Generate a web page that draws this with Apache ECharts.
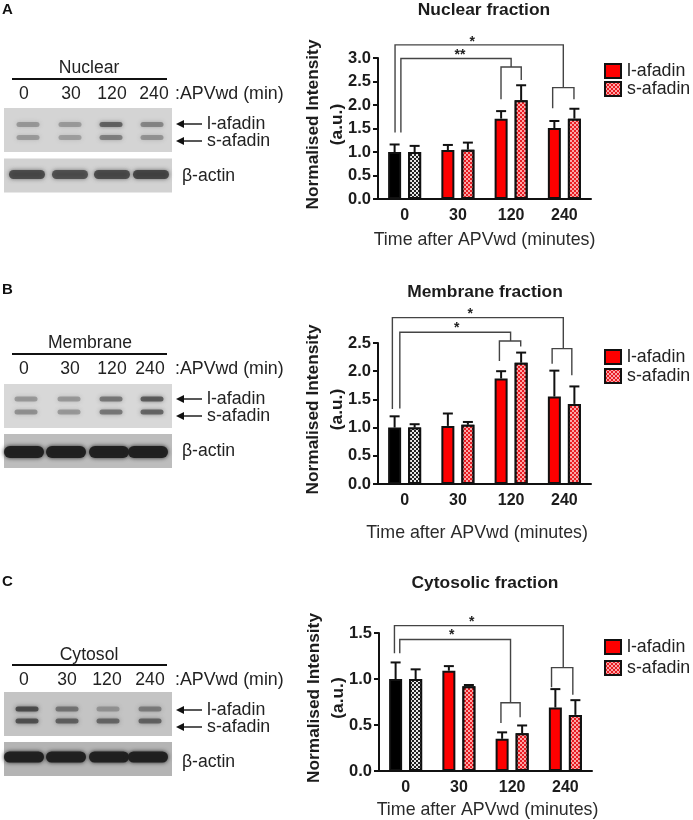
<!DOCTYPE html>
<html>
<head>
<meta charset="utf-8">
<style>
  html, body { margin: 0; padding: 0; background: #fff; }
  #chart { width: 693px; height: 820px; filter: blur(0.4px); }
</style>
<script src="https://cdn.jsdelivr.net/npm/echarts@6/dist/echarts.min.js"></script>
</head>
<body>
<div id="chart"></div>
<script>
const categories = ['0', '30', '120', '240']
const seriesNames = ['l-afadin', 's-afadin']
const blotLaneLabels = ['0', '30', '120', '240']

// bar values, with the tip of each error bar
const nuclearLong = [1.0, 1.04, 1.71, 1.51]
const nuclearLongTip = [1.16, 1.15, 1.87, 1.66]
const nuclearShort = [1.0, 1.05, 2.1, 1.71]
const nuclearShortTip = [1.13, 1.2, 2.42, 1.92]
const membraneLong = [1.0, 1.03, 1.87, 1.55]
const membraneLongTip = [1.2, 1.25, 2.0, 2.01]
const membraneShort = [1.0, 1.05, 2.15, 1.42]
const membraneShortTip = [1.06, 1.1, 2.33, 1.73]
const cytosolLong = [1.0, 1.09, 0.35, 0.69]
const cytosolLongTip = [1.18, 1.14, 0.42, 0.89]
const cytosolShort = [1.0, 0.92, 0.41, 0.61]
const cytosolShortTip = [1.105, 0.935, 0.495, 0.77]

// significance brackets, in axis units:
// x0, yStart, yTop, xMid, yYoke, xLeft, yLeft, xRight, yRight
const nuclearBrackets = [
  [-0.18, 1.415, 3.28, 2.98, 2.37, 2.78, 1.93, 3.18, 2.12],
  [-0.07, 1.415, 2.99, 2.0, 2.81, 1.81, 2.12, 2.19, 2.53],
]
const membraneBrackets = [
  [-0.23, 1.33, 2.95, 2.98, 2.4, 2.77, 2.13, 3.14, 1.93],
  [-0.09, 1.34, 2.69, 1.99, 2.535, 1.78, 2.18, 2.18, 2.44],
]
const cytosolBrackets = [
  [-0.21, 1.28, 1.58, 2.96, 1.124, 2.74, 0.91, 3.14, 0.83],
  [-0.11, 1.28, 1.43, 1.97, 0.742, 1.79, 0.523, 2.15, 0.583],
]
const nuclearStars = [[1.27, 3.39, '*'], [1.04, 3.1, '**']]
const membraneStars = [[1.23, 3.05, '*'], [0.98, 2.8, '*']]
const cytosolStars = [[1.24, 1.636, '*'], [0.865, 1.5, '*']]

// band darkness per lane on the blots, 0 to 1
const nuclearBlotLong = [0.3, 0.27, 0.62, 0.42]
const nuclearBlotShort = [0.27, 0.25, 0.45, 0.33]
const nuclearBlotActin = [0.72, 0.7, 0.72, 0.75]
const membraneBlotLong = [0.3, 0.3, 0.5, 0.65]
const membraneBlotShort = [0.35, 0.3, 0.5, 0.6]
const membraneBlotActin = [0.95, 0.95, 0.95, 0.95]
const cytosolBlotLong = [0.72, 0.5, 0.3, 0.45]
const cytosolBlotShort = [0.7, 0.62, 0.58, 0.6]
const cytosolBlotActin = [0.95, 0.95, 0.95, 0.95]

const fontFamily = '"Liberation Sans", Arial, sans-serif'
const textColor = '#1c1c1c'
const barOffset = 0.188

const checks = { symbol: 'rect', symbolSize: 1, dashArrayX: [[2, 2], [0, 2, 2, 0]], dashArrayY: [2, 0] }
const redChecks = { ...checks, color: 'rgba(255,190,190,0.85)' }
const whiteChecks = { ...checks, color: '#e8e8e8' }

const grids = []
const xAxes = []
const yAxes = []
const series = []
const legends = []
const titles = []
const graphics = []

function errorSeries(panel, offset, values, tips) {
  return {
    type: 'custom',
    xAxisIndex: panel * 2 + 1,
    yAxisIndex: panel,
    silent: true,
    z: 3,
    data: values.map((v, i) => [i + offset, v, tips[i]]),
    renderItem: (params, api) => {
      const a = api.coord([api.value(0), api.value(1)])
      const b = api.coord([api.value(0), api.value(2)])
      const style = { stroke: '#111', lineWidth: 2 }
      return {
        type: 'group',
        children: [
          { type: 'line', shape: { x1: a[0], y1: a[1], x2: b[0], y2: b[1] }, style },
          { type: 'line', shape: { x1: b[0] - 5, y1: b[1], x2: b[0] + 5, y2: b[1] }, style },
        ],
      }
    },
  }
}

function bracketSeries(panel, brackets) {
  return {
    type: 'custom',
    xAxisIndex: panel * 2 + 1,
    yAxisIndex: panel,
    silent: true,
    z: 4,
    data: brackets,
    renderItem: (params, api) => {
      const v = i => api.value(i)
      const path = pts => ({
        type: 'polyline',
        shape: { points: pts.map(p => api.coord(p)) },
        style: { stroke: '#444', lineWidth: 1.4, fill: null },
      })
      return {
        type: 'group',
        children: [
          path([[v(0), v(1)], [v(0), v(2)], [v(3), v(2)], [v(3), v(4)]]),
          path([[v(5), v(6)], [v(5), v(4)], [v(7), v(4)], [v(7), v(8)]]),
        ],
      }
    },
  }
}

function starSeries(panel, stars) {
  return {
    type: 'custom',
    xAxisIndex: panel * 2 + 1,
    yAxisIndex: panel,
    silent: true,
    z: 5,
    data: stars.map(s => [s[0], s[1]]),
    renderItem: (params, api) => {
      const p = api.coord([api.value(0), api.value(1)])
      return {
        type: 'text',
        x: p[0],
        y: p[1] + 2,
        style: {
          text: stars[params.dataIndex][2],
          align: 'center',
          verticalAlign: 'middle',
          font: 'bold 14px ' + fontFamily,
          fill: '#222',
        },
      }
    },
  }
}

function addPanel(p) {
  const n = grids.length
  grids.push({ left: p.left, top: p.top, width: 213, height: p.height })
  xAxes.push({
    type: 'category',
    gridIndex: n,
    data: categories,
    axisTick: { show: false },
    axisLine: { onZero: false, lineStyle: { color: '#111', width: 2 } },
    axisLabel: { color: textColor, fontFamily, fontWeight: 'bold', fontSize: 16, margin: 9 },
    name: 'Time after APVwd (minutes)',
    nameLocation: 'middle',
    nameGap: p.xNameGap,
    nameMoveOverlap: false,
    nameTextStyle: { color: '#2a2a2a', fontFamily, fontSize: 17.8, padding: p.xNamePadding },
  })
  xAxes.push({ type: 'value', gridIndex: n, show: false, min: -0.5, max: 3.5 })
  yAxes.push({
    type: 'value',
    gridIndex: n,
    min: 0,
    max: p.max,
    interval: 0.5,
    splitLine: { show: false },
    axisLine: { show: true, onZero: false, lineStyle: { color: '#111', width: 2 } },
    axisTick: { show: true, length: 5, lineStyle: { color: '#111', width: 2 } },
    axisLabel: { color: textColor, fontFamily, fontWeight: 'bold', fontSize: 16.5, margin: 7, formatter: v => v.toFixed(1) },
    name: 'Normalised Intensity\n(a.u.)',
    nameLocation: 'middle',
    nameRotate: 90,
    nameGap: 29,
    nameMoveOverlap: false,
    nameTextStyle: { color: textColor, fontFamily, fontWeight: 'bold', fontSize: 17.3, lineHeight: 24, padding: [0, 0, 0, 8] },
  })
  const bar = {
    type: 'bar',
    xAxisIndex: n * 2,
    yAxisIndex: n,
    barWidth: 13,
    barGap: '54%',
    silent: true,
    z: 2,
  }
  series.push({
    ...bar,
    name: seriesNames[0],
    itemStyle: { color: '#fe0000', borderColor: '#111', borderWidth: 2 },
    data: p.long.map((v, i) => (i === 0 ? { value: v, itemStyle: { color: '#000' } } : v)),
  })
  series.push({
    ...bar,
    name: seriesNames[1],
    itemStyle: { color: '#e81c22', borderColor: '#111', borderWidth: 2, decal: redChecks },
    data: p.short.map((v, i) => (i === 0 ? { value: v, itemStyle: { color: '#222', decal: whiteChecks } } : v)),
  })
  series.push(errorSeries(n, -barOffset, p.long, p.longTip))
  series.push(errorSeries(n, barOffset, p.short, p.shortTip))
  series.push(bracketSeries(n, p.brackets))
  series.push(starSeries(n, p.stars))
  legends.push({
    data: seriesNames,
    orient: 'vertical',
    left: 599,
    top: p.legendTop,
    icon: 'rect',
    itemWidth: 16,
    itemHeight: 14,
    itemGap: p.legendGap,
    selectedMode: false,
    textStyle: { color: '#222', fontFamily, fontSize: 17.8, padding: [0, 0, 0, 1] },
  })
  titles.push({
    text: p.title,
    left: p.titleX,
    top: p.titleY,
    padding: 0,
    textAlign: 'center',
    textStyle: { color: textColor, fontFamily, fontWeight: 'bold', fontSize: 17.4 },
  })
}

function label(text, x, y, size, extra) {
  return {
    type: 'text',
    x,
    y,
    silent: true,
    style: {
      text,
      align: 'left',
      verticalAlign: 'middle',
      font: size + 'px ' + fontFamily,
      fill: '#222',
      ...extra,
    },
  }
}

function band(cx, cy, w, h, dark, blur) {
  const tone = Math.round(150 - 125 * dark)
  const c = 'rgba(' + tone + ',' + tone + ',' + tone + ',' + (0.35 + 0.65 * dark).toFixed(2) + ')'
  return {
    type: 'rect',
    silent: true,
    shape: { x: cx - w / 2, y: cy - h / 2, width: w, height: h, r: h / 2 },
    style: { fill: c, shadowBlur: blur, shadowColor: c },
  }
}

function arrow(y) {
  return [
    { type: 'line', silent: true, shape: { x1: 181, y1: y, x2: 202, y2: y }, style: { stroke: '#111', lineWidth: 1.4 } },
    { type: 'polygon', silent: true, shape: { points: [[176, y], [184, y - 4], [184, y + 4]] }, style: { fill: '#111' } },
  ]
}

function addBlot(b) {
  graphics.push(label(b.letter, 2, b.letterY, 15, { font: 'bold 15px ' + fontFamily, fill: '#111' }))
  graphics.push(label(b.name, b.nameX, b.nameY, 17.6, { align: 'center' }))
  graphics.push({ type: 'line', silent: true, shape: { x1: 12, y1: b.ruleY, x2: 167, y2: b.ruleY }, style: { stroke: '#111', lineWidth: 1.8 } })
  blotLaneLabels.forEach((t, i) => graphics.push(label(t, b.laneTextX[i], b.laneTextY, 17.6, { align: 'center' })))
  graphics.push(label(':APVwd (min)', 175, b.laneTextY, 17.8))

  graphics.push({ type: 'rect', silent: true, shape: { x: 4, y: b.blotTop, width: 168, height: 44 }, style: { fill: b.blotFill } })
  graphics.push({ type: 'rect', silent: true, shape: { x: 4, y: b.actinTop, width: 168, height: 34 }, style: { fill: b.actinFill } })
  b.lanes.forEach((x, i) => {
    graphics.push(band(x, b.rowL, 23, 5, b.long[i], 4))
    graphics.push(band(x, b.rowS, 23, 5, b.short[i], 4))
    graphics.push(band(b.actinLanes[i], b.actinY, b.actinW, b.actinH, b.actin[i], 4))
  })

  graphics.push(...arrow(b.textL), ...arrow(b.textS))
  graphics.push(label('l-afadin', 207, b.textL, 17.8))
  graphics.push(label('s-afadin', 207, b.textS, 17.8))
  graphics.push(label('\u03B2-actin', 182, b.actinTextY, 17.6))
}

addPanel({
  left: 378, top: 58, height: 141, max: 3, title: 'Nuclear fraction', titleX: 484, titleY: 2,
  long: nuclearLong, longTip: nuclearLongTip, short: nuclearShort, shortTip: nuclearShortTip,
  brackets: nuclearBrackets, stars: nuclearStars, legendTop: 57, legendGap: 0, xNameGap: 32, xNamePadding: [0, 0, 0, 0],
})
addPanel({
  left: 378, top: 343, height: 141, max: 2.5, title: 'Membrane fraction', titleX: 485, titleY: 284,
  long: membraneLong, longTip: membraneLongTip, short: membraneShort, shortTip: membraneShortTip,
  brackets: membraneBrackets, stars: membraneStars, legendTop: 343, legendGap: 1, xNameGap: 40, xNamePadding: [0, 15, 0, 0],
})
addPanel({
  left: 379, top: 633, height: 142, max: 1.5, title: 'Cytosolic fraction', titleX: 485, titleY: 575,
  long: cytosolLong, longTip: cytosolLongTip, short: cytosolShort, shortTip: cytosolShortTip,
  brackets: cytosolBrackets, stars: cytosolStars, legendTop: 633, legendGap: 3, xNameGap: 30, xNamePadding: [0, 0, 0, 4],
})

addBlot({
  letter: 'A', letterY: 10, name: 'Nuclear', nameX: 89, nameY: 68, ruleY: 79,
  laneTextX: [24, 71, 112, 154], laneTextY: 94, blotTop: 108, actinTop: 158.5,
  blotFill: '#d4d4d4', actinFill: '#d2d2d2', lanes: [28, 70, 111, 152], rowL: 124.5, rowS: 137.5,
  actinLanes: [27, 70, 112, 151], actinY: 174.5, actinW: 36, actinH: 9,
  long: nuclearBlotLong, short: nuclearBlotShort, actin: nuclearBlotActin,
  textL: 124, textS: 141, actinTextY: 176,
})
addBlot({
  letter: 'B', letterY: 290, name: 'Membrane', nameX: 90, nameY: 343, ruleY: 354,
  laneTextX: [24, 70, 112, 150], laneTextY: 369, blotTop: 384, actinTop: 434,
  blotFill: '#d8d8d8', actinFill: '#bdbdbd', lanes: [26, 69, 111, 152], rowL: 399, rowS: 412,
  actinLanes: [24, 66, 109, 148], actinY: 452, actinW: 40, actinH: 12,
  long: membraneBlotLong, short: membraneBlotShort, actin: membraneBlotActin,
  textL: 399, textS: 416, actinTextY: 451,
})
addBlot({
  letter: 'C', letterY: 582, name: 'Cytosol', nameX: 89, nameY: 655, ruleY: 665,
  laneTextX: [24, 67, 107, 150], laneTextY: 680, blotTop: 692, actinTop: 742,
  blotFill: '#c4c4c4', actinFill: '#b4b4b4', lanes: [27, 67, 108, 150], rowL: 709, rowS: 721,
  actinLanes: [24, 66, 109, 148], actinY: 757, actinW: 40, actinH: 11,
  long: cytosolBlotLong, short: cytosolBlotShort, actin: cytosolBlotActin,
  textL: 710, textS: 727, actinTextY: 762,
})

const mycharts = echarts.init(document.getElementById('chart'), null, { renderer: 'canvas' })
mycharts.setOption({
  animation: false,
  backgroundColor: '#fff',
  title: titles,
  legend: legends,
  grid: grids,
  xAxis: xAxes,
  yAxis: yAxes,
  series,
  graphic: { elements: graphics },
})
</script>
</body>
</html>
